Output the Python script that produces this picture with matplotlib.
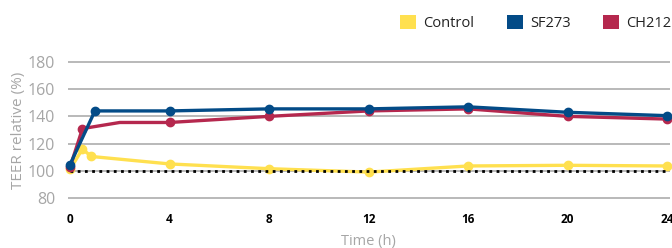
import matplotlib
matplotlib.use("Agg")
import matplotlib.pyplot as plt
from matplotlib.patches import Patch

plt.rcParams["font.family"] = ["Open Sans", "DejaVu Sans"]

# ── data ────────────────────────────────────────────────────────────────────
control_x = [0, 0.5, 0.85, 4, 8, 12, 16, 20, 24]
control_y = [101, 116, 110.5, 105, 101.5, 99, 103.5, 104, 103.5]

sf273_x = [0, 1, 4, 8, 12, 16, 20, 24]
sf273_y = [104.5, 144, 144, 145.5, 145.5, 147, 143, 140.5]

ch212_x = [0, 0.5, 2, 4, 8, 12, 16, 20, 24]
ch212_y = [102.5, 131, 135.5, 135.5, 140, 144, 145.5, 140, 138]
ch212_marked = [0, 1, 3, 4, 5, 6, 7, 8]

baseline = 100
x_ticks = [0, 4, 8, 12, 16, 20, 24]
y_ticks = [80, 100, 120, 140, 160, 180]
series_names = ["Control", "SF273", "CH212"]

YELLOW = "#FFE04F"
BLUE = "#034B87"
RED = "#B5284E"
GREY = "#A6A6A6"

fig = plt.figure(figsize=(6.72, 2.48), dpi=100)
ax = fig.add_axes([0.1005, 0.191, 0.896, 0.570])

ax.set_xlim(-0.1, 24.1)
ax.set_ylim(78, 182)

for yv in y_ticks:
    ax.axhline(yv, color="#B3B3B3", linewidth=1.3, zorder=0)

ax.plot(control_x, control_y, color=YELLOW, lw=2.4, marker="o", ms=6,
        clip_on=False, zorder=3)
ax.plot([0, 24], [baseline, baseline], color="black", lw=2,
        linestyle=(0, (1, 1.6)), zorder=3.5)
ax.plot(ch212_x, ch212_y, color=RED, lw=2.4, marker="o", ms=6,
        markevery=ch212_marked, clip_on=False, zorder=4)
ax.plot(sf273_x, sf273_y, color=BLUE, lw=2.4, marker="o", ms=6,
        clip_on=False, zorder=5)

ax.set_xticks(x_ticks)
ax.set_xticklabels([str(t) for t in x_ticks], fontweight="bold",
                   fontsize=8.5, color="black")
ax.set_yticks(y_ticks)
ax.set_yticklabels([str(t) for t in y_ticks], fontsize=11.5, color=GREY)
ax.tick_params(length=0)
ax.tick_params(axis="x", pad=9)
ax.tick_params(axis="y", pad=9)
for s in ax.spines.values():
    s.set_visible(False)

ax.set_xlabel("Time (h)", color=GREY, fontsize=10.5, labelpad=6)
ax.set_ylabel("TEER relative (%)", color=GREY, fontsize=11, labelpad=1)

handles = [Patch(facecolor=c, edgecolor="none") for c in (YELLOW, BLUE, RED)]
fig.legend(handles, series_names, loc="upper left",
           bbox_to_anchor=(0.576, 0.994), ncol=3, frameon=False,
           fontsize=10.5, handlelength=1.1, handleheight=1.1,
           handletextpad=0.5, columnspacing=2.2, labelcolor="#222222")

fig.savefig("out.png", dpi=100)
